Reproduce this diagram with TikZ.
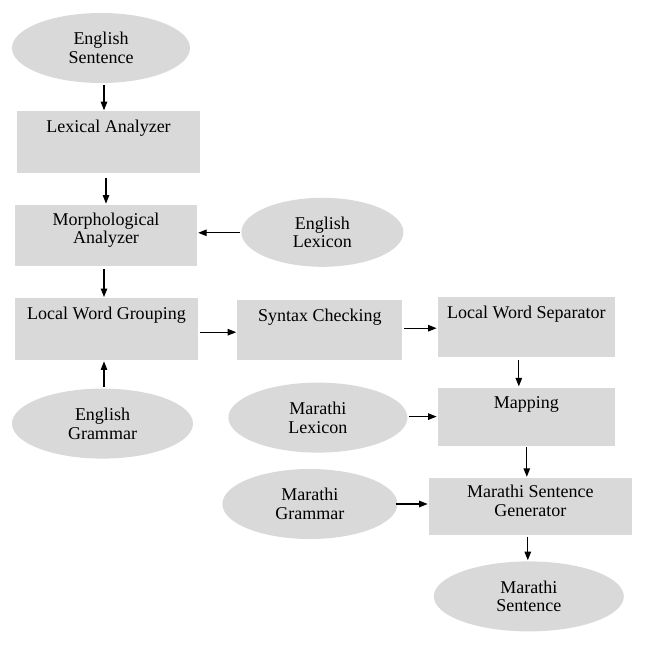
\documentclass[tikz,border=0pt]{standalone}
\usepackage{fontspec}
\setmainfont{Liberation Serif}
\usepackage{tikz}
\usetikzlibrary{arrows.meta, positioning, shapes.geometric}
\definecolor{boxgray}{RGB}{217,217,217}

\begin{document}
\begin{tikzpicture}[
x=1pt, y=-1pt,
font=\fontsize{18}{18.5}\selectfont,
box/.style={rectangle, fill=boxgray, inner ysep=0pt, align=center, text height=21pt},
oval/.style={ellipse, fill=boxgray, inner sep=0pt, align=center},
arrow/.style={-{Triangle[length=8.5pt,width=6.5pt]}, line width=1.1pt, shorten <=1.5pt, shorten >=1pt}
]
\useasboundingbox (0,0) rectangle (660,652);

% English side
\node[oval, minimum width=178pt, minimum height=70pt] (es) at (101,48) {English\\Sentence};
\node[box, below=28pt of es, xshift=7.5pt, minimum width=183pt, text depth=41pt] (la) {Lexical Analyzer};
\node[box, below=31pt of la, xshift=-2.5pt, minimum width=182pt, text height=39pt, text depth=22pt] (ma) {Morphological\\Analyzer};
\node[oval, right=44pt of ma, yshift=3pt, minimum width=162pt, minimum height=69pt] (el) {English\\Lexicon};
\node[box, below=32pt of ma, xshift=0.5pt, minimum width=183pt, text depth=41pt] (lwg) {Local Word Grouping};
\node[oval, below=28pt of lwg, xshift=-4pt, minimum width=181pt, minimum height=70pt] (eg) {English\\Grammar};
\node[box, right=39pt of lwg, yshift=-1pt, minimum width=165pt, text depth=39pt] (sc) {Syntax Checking};
\node[box, right=35pt of sc, yshift=3pt, minimum width=177pt, text depth=39pt] (lws) {Local Word Separator};

% Marathi side
\node[box, below=30pt of lws, minimum width=177pt, text depth=37pt] (map) {Mapping};
\node[oval, left=30pt of map, yshift=-1pt, minimum width=179pt, minimum height=70pt] (ml) {Marathi\\Lexicon};
\node[box, below=32pt of map, xshift=4pt, minimum width=203pt, text height=38pt, text depth=19pt] (msg) {Marathi Sentence\\Generator};
\node[oval, left=31pt of msg, yshift=2.5pt, minimum width=175pt, minimum height=70pt] (mg) {Marathi\\Grammar};
\node[oval, below=26pt of msg, xshift=-1.5pt, minimum width=190pt, minimum height=70pt] (ms) {Marathi\\Sentence};

\draw[arrow] ([xshift=3pt]es.south) -- ([xshift=3pt]es.south |- la.north);
\draw[arrow, shorten <=4pt] ([xshift=-2.5pt]la.south) -- ([xshift=-2.5pt]la.south |- ma.north);
\draw[arrow] ([yshift=-0.5pt]el.west) -- ([yshift=-0.5pt]el.west -| ma.east);
\draw[arrow, shorten <=3pt] ([xshift=-2pt]ma.south) -- ([xshift=-2pt]ma.south |- lwg.north);
\draw[arrow] ([xshift=1.5pt]eg.north) -- ([xshift=1.5pt]eg.north |- lwg.south);
\draw[arrow] ([yshift=-3pt]lwg.east) -- ([yshift=-3pt]lwg.east -| sc.west);
\draw[arrow] ([yshift=2pt]sc.east) -- ([yshift=2pt]sc.east -| lws.west);
\draw[arrow, shorten <=3pt] ([xshift=-7.5pt]lws.south) -- ([xshift=-7.5pt]lws.south |- map.north);
\draw[arrow] ([yshift=1pt]ml.east) -- ([yshift=1pt]ml.east -| map.west);
\draw[arrow] ([xshift=0.5pt]map.south) -- ([xshift=0.5pt]map.south |- msg.north);
\draw[arrow, shorten <=-2pt] (mg.east) -- (mg.east -| msg.west);
\draw[arrow] ([xshift=-2.5pt]msg.south) -- ([xshift=-2.5pt]msg.south |- ms.north);

\end{tikzpicture}
\end{document}
